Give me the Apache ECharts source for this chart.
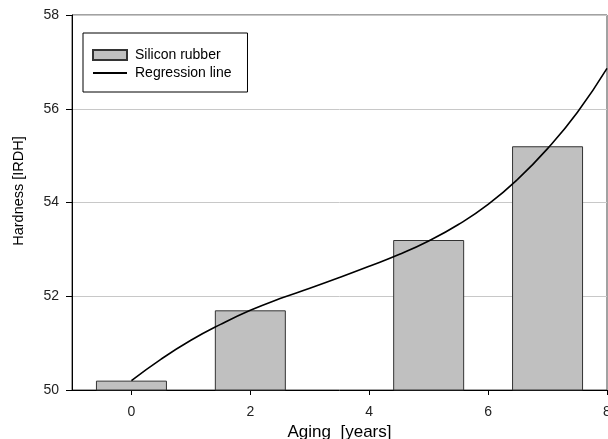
<!DOCTYPE html>
<html><head><meta charset="utf-8">
<script src="https://cdn.jsdelivr.net/npm/echarts@6/dist/echarts.min.js"></script>
<style>html,body{margin:0;padding:0;background:#fff}#c{width:608px;height:439px}</style>
</head><body><div id="c"></div>
<script>
const barYears = [0, 2, 5, 7];
const barHardness = [50.2, 51.7, 53.2, 55.2];
const lineYears = [0, 0.5, 1, 1.5, 2, 2.5, 3, 3.5, 4, 4.5, 5, 5.5, 6, 6.5, 7, 7.5, 8];
const lineHardness = [50.2, 50.66, 51.06, 51.4, 51.7, 51.95, 52.17, 52.4, 52.64, 52.89, 53.18, 53.53, 53.96, 54.5, 55.15, 55.92, 56.86];
const xTicks = [0, 2, 4, 6, 8];
const yTicks = [50, 52, 54, 56, 58];

const chart = echarts.init(document.getElementById('c'));
const font = 'Liberation Sans, Arial, sans-serif';
chart.setOption({
  animation: false,
  grid: { left: 72, right: 1, top: 15, bottom: 49, outerBoundsMode: 'none', containLabel: false,
          show: true, borderColor: '#444', borderWidth: 1 },
  legend: {
    left: 83, top: 33, orient: 'vertical', itemGap: 4,
    padding: [15, 16, 12, 9],
    borderColor: '#000', borderWidth: 1, backgroundColor: '#fff',
    itemWidth: 34, itemHeight: 10,
    textStyle: { fontFamily: font, fontSize: 14, color: '#000', padding: [0, 0, 0, 3] },
    data: [
      { name: 'Silicon rubber', icon: 'rect' },
      { name: 'Regression line', itemStyle: { opacity: 0 } }
    ]
  },
  xAxis: {
    type: 'value', min: -1, max: 8,
    name: 'Aging  [years]', nameLocation: 'middle', nameGap: 32,
    nameTextStyle: { fontFamily: font, fontSize: 17, color: '#000' },
    axisLine: { onZero: false, lineStyle: { color: '#000', width: 1 } },
    axisTick: { show: true, length: 5, customValues: xTicks, lineStyle: { color: '#000' } },
    axisLabel: { customValues: xTicks, fontFamily: font, fontSize: 14, color: '#222', margin: 15 },
    splitLine: { show: false }
  },
  yAxis: {
    type: 'value', min: 50, max: 58, interval: 2,
    name: 'Hardness [IRDH]', nameLocation: 'middle', nameGap: 46,
    nameTextStyle: { fontFamily: font, fontSize: 14.5, color: '#000', padding: [0, 0, 0, 23] },
    axisLine: { show: true, onZero: false, lineStyle: { color: '#000', width: 1 } },
    axisTick: { show: true, length: 6, lineStyle: { color: '#000' } },
    axisLabel: { fontFamily: font, fontSize: 14, color: '#222', margin: 13 },
    splitLine: { show: true, lineStyle: { color: '#c8c8c8', width: 1 } }
  },
  series: [
    {
      name: 'Silicon rubber', type: 'bar', barWidth: 71, clip: true,
      itemStyle: { color: '#c0c0c0', borderColor: '#333', borderWidth: 1 },
      data: barYears.map((x, i) => [x, barHardness[i]]),
      z: 2
    },
    {
      name: 'Regression line', type: 'line', smooth: true, symbol: 'none', showSymbol: false,
      lineStyle: { color: '#000', width: 1.6 }, itemStyle: { color: '#000' },
      data: lineYears.map((x, i) => [x, lineHardness[i]]),
      z: 3
    }
  ]
});
</script></body></html>
